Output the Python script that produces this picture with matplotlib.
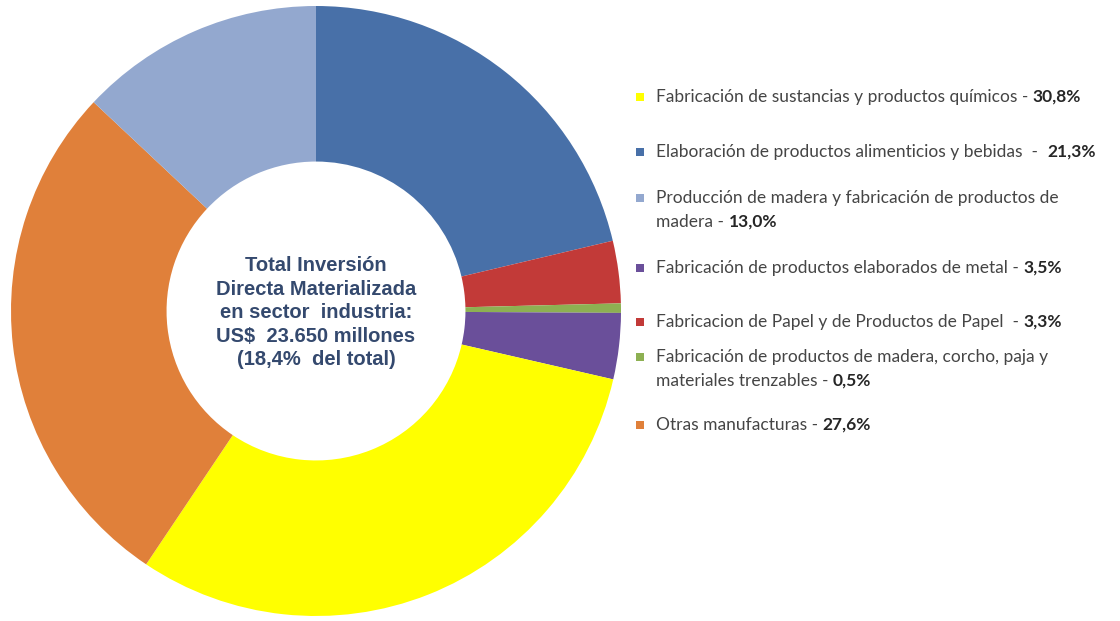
import matplotlib.pyplot as plt
from matplotlib.patches import Rectangle

# data: pie order, clockwise from 12 o'clock
sectors = ["Elaboración de productos alimenticios y bebidas",
           "Fabricacion de Papel y de Productos de Papel",
           "Fabricación de productos de madera, corcho, paja y materiales trenzables",
           "Fabricación de productos elaborados de metal",
           "Fabricación de sustancias y productos químicos",
           "Otras manufacturas",
           "Producción de madera y fabricación de productos de madera"]
shares = [21.3, 3.3, 0.5, 3.5, 30.8, 27.6, 13.0]
colors = ["#4870A8", "#C23A38", "#8DB052", "#6A4F9A", "#FFFF00", "#E0803A", "#93A8CF"]

# legend order and wrapped text (label part, value part)
legend_order = [4, 0, 6, 3, 1, 2, 5]
legend_text = {
    4: ["Fabricación de sustancias y productos químicos - "],
    0: ["Elaboración de productos alimenticios y bebidas  -  "],
    6: ["Producción de madera y fabricación de productos de", "madera - "],
    3: ["Fabricación de productos elaborados de metal - "],
    1: ["Fabricacion de Papel y de Productos de Papel  - "],
    2: ["Fabricación de productos de madera, corcho, paja y", "materiales trenzables - "],
    5: ["Otras manufacturas - "],
}
center_lines = ["Total Inversión", "Directa Materializada", "en sector  industria:",
                "US$  23.650 millones", "(18,4%  del total)"]

W, H = 1120, 621
fig = plt.figure(figsize=(W / 100, H / 100), dpi=100)
fig.patch.set_facecolor("white")

# donut
cx, cy, R = 316, 311, 305
ax = fig.add_axes([(cx - R) / W, (H - cy - R) / H, 2 * R / W, 2 * R / H])
ax.pie(shares, colors=colors, startangle=90, counterclock=False,
       wedgeprops=dict(width=0.51, linewidth=0), radius=1)
ax.set_xlim(-1, 1)
ax.set_ylim(-1, 1)
ax.set_aspect("equal")
ax.axis("off")

for i, line in enumerate(center_lines):
    ax.text(0, (2 - i) * 0.077 - 0.005, line, ha="center", va="center",
            fontsize=14.5, fontweight="bold", color="#34496E",
            family="Liberation Sans")

# legend drawn by hand
entry_y = [97, 152, 198, 268, 322, 357, 425]
line_gap = 24
tx, mx = 656, 640
font = dict(fontsize=12.5, family="Lato")
fig.canvas.draw()
renderer = fig.canvas.get_renderer()
for k, idx in enumerate(legend_order):
    y0 = entry_y[k]
    fig.patches.append(Rectangle(((mx - 4) / W, (H - y0 - 4) / H), 8 / W, 8 / H,
                                 transform=fig.transFigure, color=colors[idx],
                                 linewidth=0))
    lines = legend_text[idx]
    for j, part in enumerate(lines):
        yy = (H - y0 - j * line_gap) / H
        t = fig.text(tx / W, yy, part, ha="left", va="center", color="#454545", **font)
        if j == len(lines) - 1:
            bb = t.get_window_extent(renderer)
            val = f"{shares[idx]:.1f}%".replace(".", ",")
            fig.text(bb.x1 / W, yy, val, ha="left", va="center",
                     fontweight="bold", color="#262626", **font)

fig.savefig("out.png", dpi=100, facecolor="white")
